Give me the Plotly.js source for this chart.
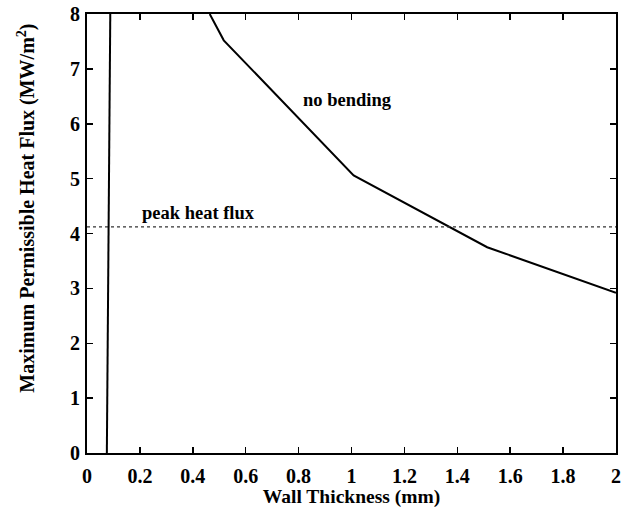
<!DOCTYPE html>
<html>
<head>
<meta charset="utf-8">
<script src="https://cdn.plot.ly/plotly-3.0.1.min.js"></script>
<style>html,body{margin:0;padding:0;background:#fff;}#chart{width:627px;height:508px;}</style>
</head>
<body>
<div id="chart"></div>
<script>
// "no bending" curve
const bendX = [0.464, 0.517, 1.008, 1.513, 2.0];
const bendY = [8.0, 7.52, 5.06, 3.75, 2.92];
// peak heat flux level
const peakX = [0, 2];
const peakY = [4.12, 4.12];
// minimum wall thickness vertical line
const minX = [0.075, 0.088];
const minY = [0, 8];
// tick labels
const xTicks = [0, 0.2, 0.4, 0.6, 0.8, 1, 1.2, 1.4, 1.6, 1.8, 2];
const xTickText = ["0", "0.2", "0.4", "0.6", "0.8", "1", "1.2", "1.4", "1.6", "1.8", "2"];
const yTicks = [0, 1, 2, 3, 4, 5, 6, 7, 8];
const yTitle = "Maximum Permissible Heat Flux (MW/m<sup>2</sup>)";
const xTitle = "Wall Thickness (mm)";

const font = {family: "Liberation Serif, Times New Roman, serif", color: "#000"};

const traces = [
  {x: bendX, y: bendY, mode: "lines", line: {color: "#000", width: 2}, hoverinfo: "skip"},
  {x: peakX, y: peakY, mode: "lines", line: {color: "#333", width: 1.3, dash: "dot"}, hoverinfo: "skip"},
  {x: minX, y: minY, mode: "lines", line: {color: "#000", width: 2}, hoverinfo: "skip"}
];

const axisCommon = {
  showgrid: false, zeroline: false, showline: true, linecolor: "#000", linewidth: 2,
  mirror: "ticks", ticks: "inside", ticklen: 6, tickwidth: 1.5, tickcolor: "#000",
  tickfont: Object.assign({size: 20, weight: "bold"}, font)
};

const layout = {
  width: 627, height: 508,
  margin: {l: 87, r: 11, t: 14, b: 55},
  paper_bgcolor: "#fff", plot_bgcolor: "#fff",
  showlegend: false,
  font: font,
  xaxis: Object.assign({}, axisCommon, {
    range: [0, 2], tickvals: xTicks, ticktext: xTickText, ticklabelstandoff: 4,
    title: {text: xTitle, font: Object.assign({size: 19.5, weight: "bold"}, font), standoff: 0}
  }),
  yaxis: Object.assign({}, axisCommon, {
    range: [0, 8], tickvals: yTicks, ticklabelstandoff: 1
  }),
  annotations: [
    {x: -0.116, y: 0.558, xref: "paper", yref: "paper", text: yTitle, textangle: -90, showarrow: false,
     xanchor: "center", yanchor: "middle", font: Object.assign({size: 20, weight: "bold"}, font)},
    {x: 0.81, y: 6.43, xref: "x", yref: "y", text: "no bending", showarrow: false, xanchor: "left", yanchor: "middle",
     font: Object.assign({size: 18.5, weight: "bold"}, font)},
    {x: 0.2, y: 4.37, xref: "x", yref: "y", text: "peak heat flux", showarrow: false, xanchor: "left", yanchor: "middle",
     font: Object.assign({size: 18.5, weight: "bold"}, font)}
  ]
};

Plotly.newPlot("chart", traces, layout, {staticPlot: true, displayModeBar: false});
</script>
</body>
</html>
